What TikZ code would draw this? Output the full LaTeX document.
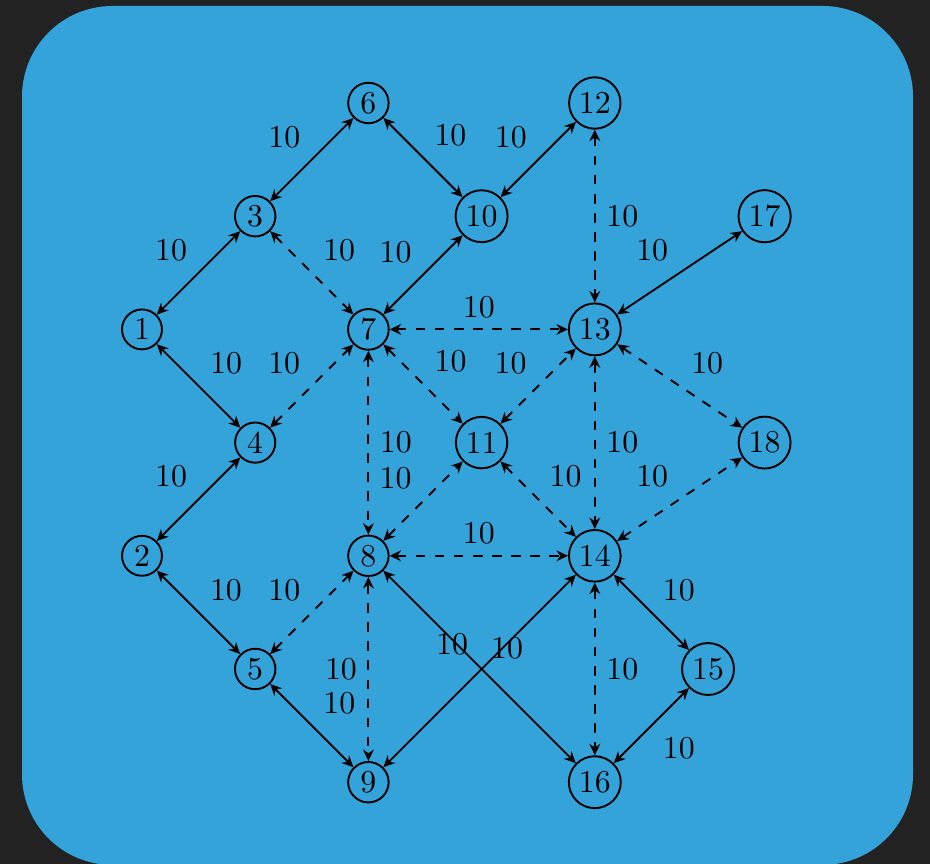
\documentclass[tikz,border=0pt]{standalone}
\usetikzlibrary{arrows.meta}
\definecolor{panelblue}{RGB}{52,163,218}
\definecolor{darkbg}{RGB}{34,34,34}

\begin{document}
\begin{tikzpicture}[
  x=1.25cm, y=1.25cm, >={Stealth[length=3.6pt, width=3.4pt]},
  vertex/.style={circle, draw, semithick, inner sep=1.5pt},
  link/.style={<->, semithick},
  dlink/.style={link, dashed},
]
% ---- background ----
\useasboundingbox[fill=darkbg] (-1.2544,0.9099) rectangle (6.961,-6.7226);
\fill[panelblue, rounded corners=1cm] (-1.060,0.857) rectangle (6.811,-6.731);
% ---- vertices ----
\node[vertex] (n1)  at (0,-2)   {1};
\node[vertex] (n2)  at (0,-4)   {2};
\node[vertex] (n3)  at (1,-1)   {3};
\node[vertex] (n4)  at (1,-3)   {4};
\node[vertex] (n5)  at (1,-5)   {5};
\node[vertex] (n6)  at (2,0)    {6};
\node[vertex] (n7)  at (2,-2)   {7};
\node[vertex] (n8)  at (2,-4)   {8};
\node[vertex] (n9)  at (2,-6)   {9};
\node[vertex] (n10) at (3,-1)   {10};
\node[vertex] (n11) at (3,-3)   {11};
\node[vertex] (n12) at (4,0)    {12};
\node[vertex] (n13) at (4,-2)   {13};
\node[vertex] (n14) at (4,-4)   {14};
\node[vertex] (n15) at (5,-5)   {15};
\node[vertex] (n16) at (4,-6)   {16};
\node[vertex] (n17) at (5.5,-1) {17};
\node[vertex] (n18) at (5.5,-3) {18};
% ---- solid edges ----
\draw[link] (n1) -- (n3) node[midway, above left] {10};
\draw[link] (n1) -- (n4) node[midway, above right] {10};
\draw[link] (n2) -- (n4) node[midway, above left] {10};
\draw[link] (n2) -- (n5) node[midway, above right] {10};
\draw[link] (n3) -- (n6) node[midway, above left] {10};
\draw[link] (n5) -- (n9) node[midway, above right] {10};
\draw[link] (n6) -- (n10) node[midway, above right] {10};
\draw[link] (n7) -- (n10) node[midway, above left] {10};
\draw[link] (n10) -- (n12) node[midway, above left] {10};
\draw[link] (n13) -- (n17) node[midway, above left] {10};
\draw[link] (n14) -- (n15) node[midway, above right] {10};
\draw[link] (n8) -- (n16) node[midway, above left] {10};
\draw[link] (n9) -- (n14) node[midway, above right] {10};
\draw[link] (n15) -- (n16) node[midway, below right] {10};
% ---- dashed edges ----
\draw[dlink] (n3) -- (n7) node[midway, above right] {10};
\draw[dlink] (n4) -- (n7) node[midway, above left] {10};
\draw[dlink] (n5) -- (n8) node[midway, above left] {10};
\draw[dlink] (n12) -- (n13) node[midway, right] {10};
\draw[dlink] (n7) -- (n13) node[midway, above] {10};
\draw[dlink] (n7) -- (n11) node[midway, above right] {10};
\draw[dlink] (n11) -- (n13) node[midway, above left] {10};
\draw[dlink] (n13) -- (n18) node[midway, above right] {10};
\draw[dlink] (n7) -- (n8) node[midway, right] {10};
\draw[dlink] (n8) -- (n11) node[midway, above left] {10};
\draw[dlink] (n11) -- (n14) node[midway, above right] {10};
\draw[dlink] (n13) -- (n14) node[midway, right] {10};
\draw[dlink] (n14) -- (n18) node[midway, above left] {10};
\draw[dlink] (n8) -- (n14) node[midway, above] {10};
\draw[dlink] (n8) -- (n9) node[midway, left] {10};
\draw[dlink] (n14) -- (n16) node[midway, right] {10};
\end{tikzpicture}
\end{document}
